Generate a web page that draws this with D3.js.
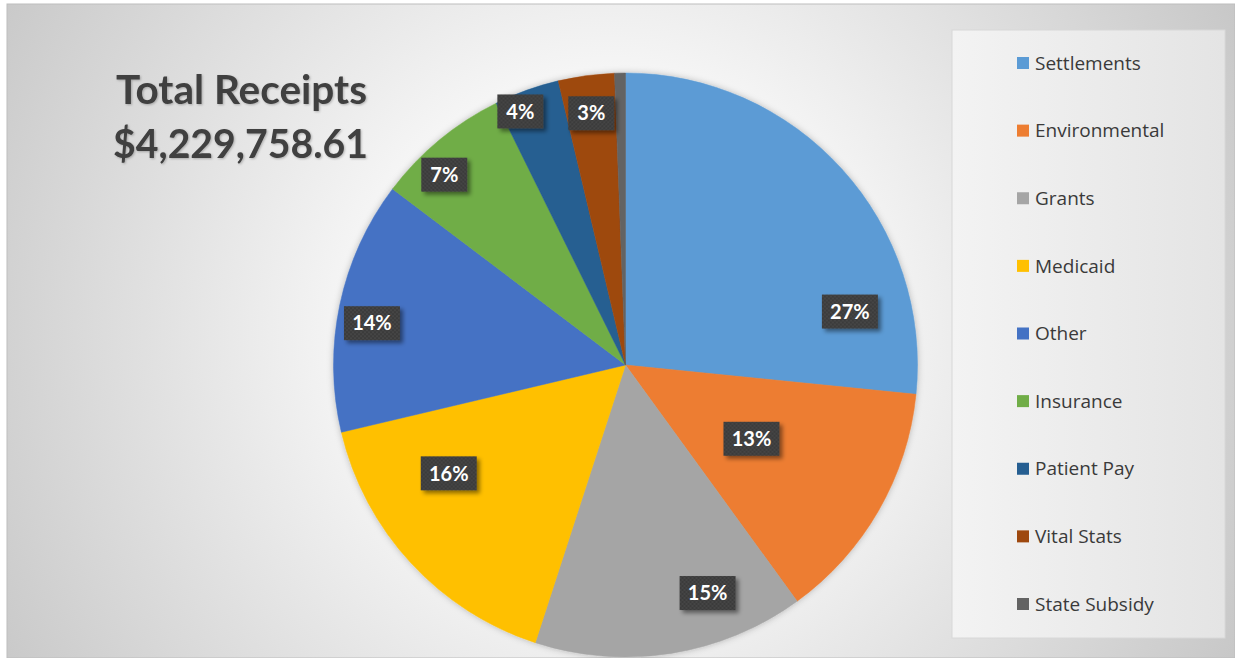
<!DOCTYPE html>
<html>
<head>
<meta charset="utf-8">
<script src="https://cdn.jsdelivr.net/npm/d3@7"></script>
<style>
  html, body { margin: 0; padding: 0; background: #ffffff; }
  svg { display: block; }
</style>
</head>
<body>
<svg id="chart" width="1235" height="658"></svg>
<script>
// Receipt categories, in drawing order (clockwise from 12 o'clock)
const categories = ["Settlements", "Environmental", "Grants", "Medicaid", "Other",
                    "Insurance", "Patient Pay", "Vital Stats", "State Subsidy"];
// Share of total receipts, percent
const shares = [26.6, 13.4, 15.0, 16.3, 14.0, 7.4, 3.6, 3.1, 0.6];
const colors = ["#5B9BD5", "#ED7D31", "#A5A5A5", "#FFC000", "#4472C4",
                "#70AD47", "#255E91", "#9E480E", "#636363"];
const showLabel = [true, true, true, true, true, true, true, true, false];
const titleLines = ["Total Receipts", "$4,229,758.61"];

// Label placement inside each slice: t = fraction along the slice's angle, r = fraction of radius
const labelPlacement = [
  {t: 0.80, r: 0.79}, {t: 0.51, r: 0.50}, {t: 0.30, r: 0.83}, {t: 0.69, r: 0.71},
  {t: 0.45, r: 0.88}, {t: 0.35, r: 0.90}, {t: 0.29, r: 0.94}, {t: 0.50, r: 0.87}, {t: 0.5, r: 0.8}
];

const W = 1235, H = 658;
const svg = d3.select("#chart");
const defs = svg.append("defs");

// Slide background: soft radial gradient
const bg = defs.append("radialGradient").attr("id", "bgGrad")
  .attr("gradientUnits", "userSpaceOnUse")
  .attr("cx", 610).attr("cy", 330).attr("r", 720);
bg.append("stop").attr("offset", "0%").attr("stop-color", "#ffffff");
bg.append("stop").attr("offset", "35%").attr("stop-color", "#f6f6f6");
bg.append("stop").attr("offset", "100%").attr("stop-color", "#c6c6c6");

const lg = defs.append("linearGradient").attr("id", "legendGrad")
  .attr("x1", 0).attr("y1", 0).attr("x2", 1).attr("y2", 0);
lg.append("stop").attr("offset", "0%").attr("stop-color", "#f3f3f3");
lg.append("stop").attr("offset", "100%").attr("stop-color", "#e4e4e4");

// Dotted fill for the data label boxes
const pat = defs.append("pattern").attr("id", "dots")
  .attr("patternUnits", "userSpaceOnUse").attr("width", 4).attr("height", 4);
pat.append("rect").attr("width", 4).attr("height", 4).attr("fill", "#3b3b3b");
pat.append("circle").attr("cx", 1).attr("cy", 1).attr("r", 0.7).attr("fill", "#555555");
pat.append("circle").attr("cx", 3).attr("cy", 3).attr("r", 0.7).attr("fill", "#555555");

const shadow = defs.append("filter").attr("id", "boxShadow")
  .attr("x", "-30%").attr("y", "-30%").attr("width", "160%").attr("height", "170%");
shadow.append("feDropShadow").attr("dx", 3).attr("dy", 3).attr("stdDeviation", 2)
  .attr("flood-color", "#000").attr("flood-opacity", 0.45);

const pieShadow = defs.append("filter").attr("id", "pieShadow")
  .attr("x", "-10%").attr("y", "-10%").attr("width", "120%").attr("height", "120%");
pieShadow.append("feDropShadow").attr("dx", 0).attr("dy", 0).attr("stdDeviation", 3)
  .attr("flood-color", "#000").attr("flood-opacity", 0.25);

const textShadow = defs.append("filter").attr("id", "textShadow");
textShadow.append("feDropShadow").attr("dx", 1).attr("dy", 1).attr("stdDeviation", 1)
  .attr("flood-color", "#000").attr("flood-opacity", 0.25);

// Frame
svg.append("rect").attr("x", 7).attr("y", 4).attr("width", W - 7).attr("height", H - 4)
  .attr("fill", "url(#bgGrad)").attr("stroke", "#bdbdbd").attr("stroke-width", 1);

// Title
const title = svg.append("text")
  .attr("font-family", "Lato, 'Open Sans', sans-serif")
  .attr("font-weight", 700).attr("font-size", 40).attr("fill", "#3f3f3f")
  .attr("filter", "url(#textShadow)");
title.selectAll("tspan").data(titleLines).join("tspan")
  .attr("x", (d, i) => i === 0 ? 116 : 113).attr("y", (d, i) => 104 + i * 54)
  .attr("textLength", (d, i) => i === 0 ? 251 : 255)
  .attr("lengthAdjust", "spacingAndGlyphs")
  .text(d => d);

// Pie
const cx = 625.5, cy = 365, R = 292;
const pie = d3.pie().sort(null).value(d => d.value);
const arcs = pie(categories.map((c, i) => ({name: c, value: shares[i], color: colors[i]})));
const arc = d3.arc().innerRadius(0).outerRadius(R);
const total = d3.sum(shares);

const g = svg.append("g").attr("transform", `translate(${cx},${cy})`);
g.append("g").attr("filter", "url(#pieShadow)")
  .selectAll("path").data(arcs).join("path")
  .attr("d", arc).attr("fill", d => d.data.color)
  .attr("stroke", d => d.data.color).attr("stroke-width", 0.5);

// Data labels
const fmt = d3.format(".0%");
const labels = g.selectAll("g.lbl").data(arcs.filter((d, i) => showLabel[i])).join("g")
  .attr("class", "lbl")
  .attr("transform", d => {
    const p = labelPlacement[d.index];
    const a = d.startAngle + (d.endAngle - d.startAngle) * p.t;
    const r = R * p.r;
    return `translate(${r * Math.sin(a)},${-r * Math.cos(a)})`;
  });
labels.each(function(d) {
  const sel = d3.select(this);
  const txt = fmt(d.data.value / total);
  const w = txt.length >= 3 ? 56 : 46;
  sel.append("rect").attr("x", -w / 2).attr("y", -17).attr("width", w).attr("height", 34)
    .attr("fill", "url(#dots)").attr("filter", "url(#boxShadow)");
  sel.append("text").attr("text-anchor", "middle").attr("dy", "0.36em")
    .attr("font-family", "Lato, 'Open Sans', sans-serif").attr("font-weight", 700)
    .attr("font-size", 20).attr("fill", "#ffffff").text(txt);
});

// Legend
const legend = svg.append("g");
legend.append("rect").attr("x", 952).attr("y", 30).attr("width", 273).attr("height", 608)
  .attr("fill", "url(#legendGrad)").attr("stroke", "#d8d8d8").attr("stroke-width", 1);
const legendY = d3.scalePoint().domain(categories).range([63, 604]);
const items = legend.selectAll("g.item").data(categories).join("g")
  .attr("class", "item")
  .attr("transform", d => `translate(1017,${legendY(d)})`);
items.append("rect").attr("x", 0).attr("y", -6).attr("width", 12).attr("height", 12)
  .attr("fill", (d, i) => colors[i]);
items.append("text").attr("x", 18).attr("dy", "0.35em")
  .attr("font-family", "'Open Sans', Lato, sans-serif").attr("font-size", 19)
  .attr("fill", "#3a3a3a").text(d => d);
</script>
</body>
</html>
